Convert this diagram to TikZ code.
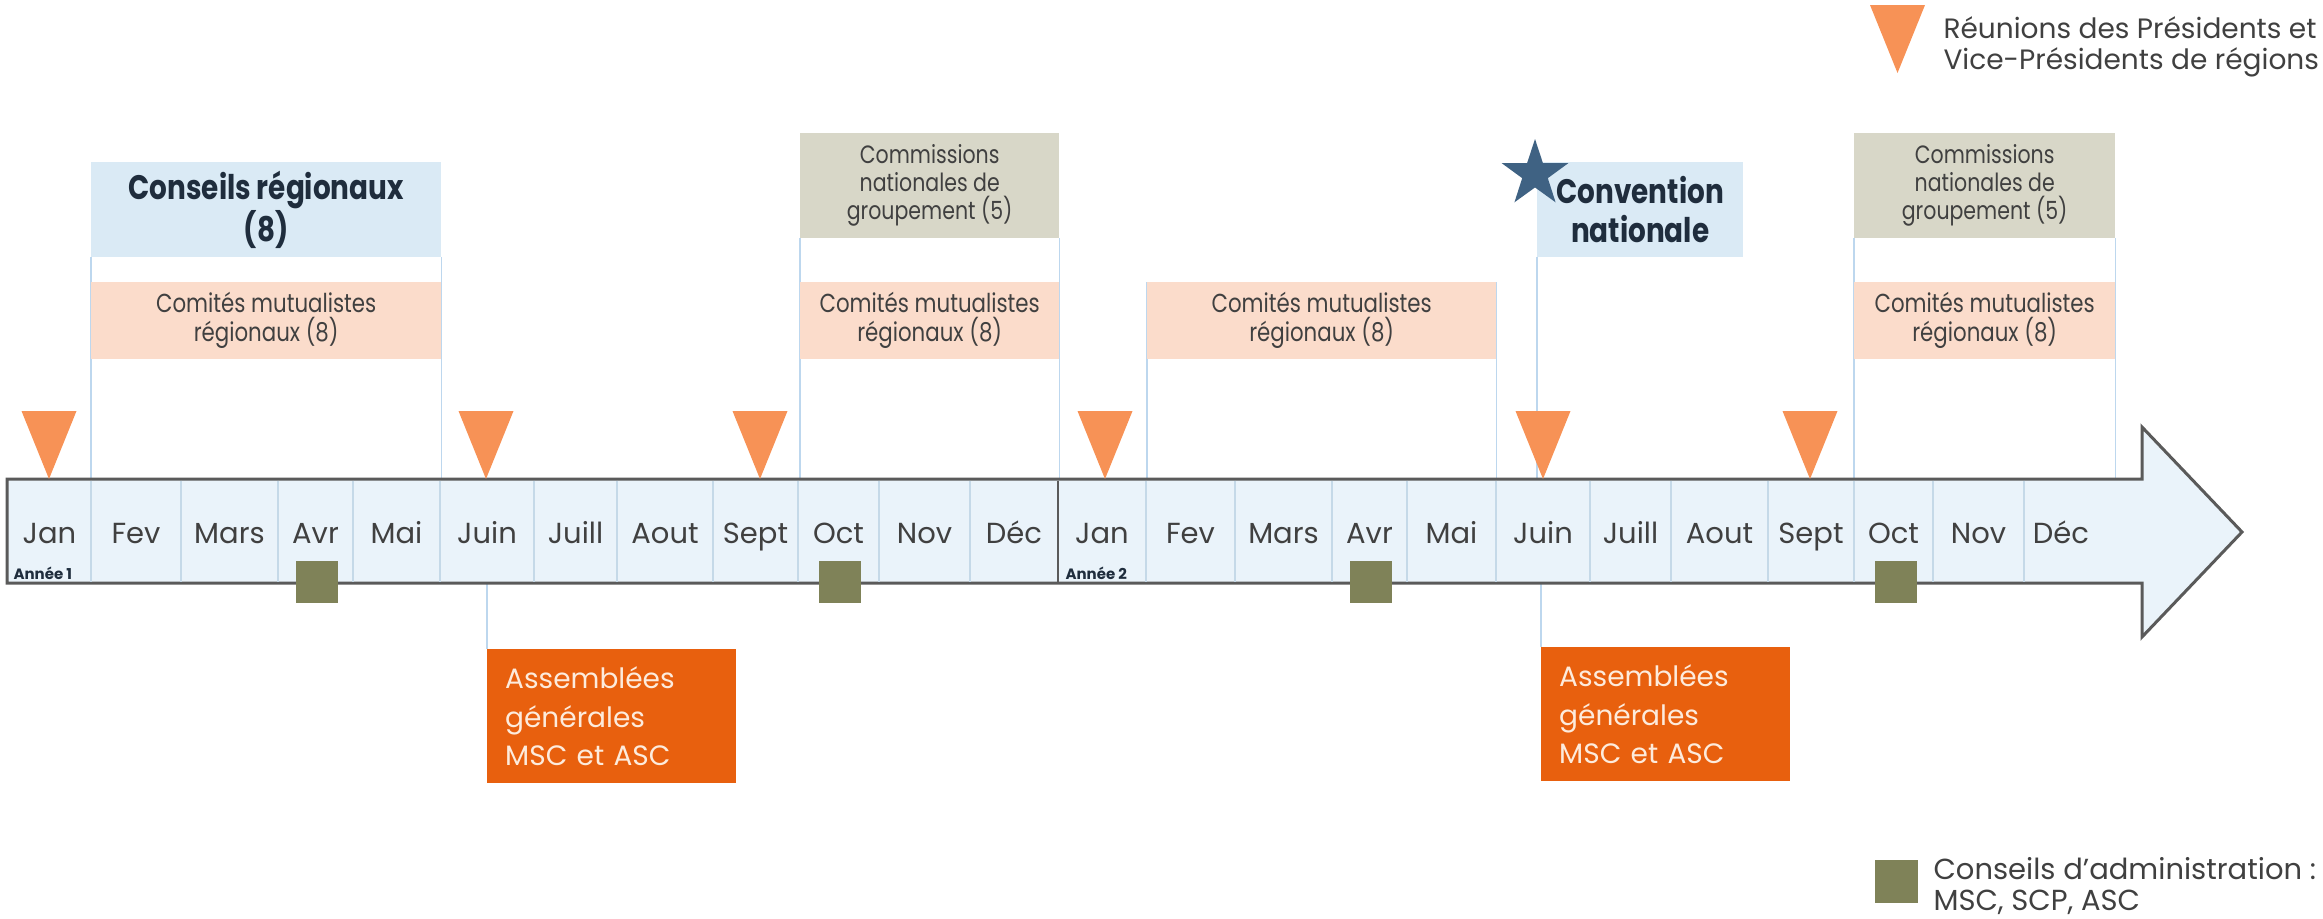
\documentclass[tikz,border=0pt]{standalone}
\usepackage{fontspec}
\setmainfont{Poppins}
\newfontfamily\narrowfont[FakeStretch=0.82]{Poppins}
\usetikzlibrary{shapes.geometric}

\definecolor{arrowfill}{RGB}{234,243,250}
\definecolor{arrowline}{RGB}{90,90,90}
\definecolor{cellline}{RGB}{197,217,232}
\definecolor{linkline}{RGB}{189,215,238}
\definecolor{conseilblue}{RGB}{218,234,245}
\definecolor{comitepink}{RGB}{251,220,203}
\definecolor{commisgray}{RGB}{216,215,200}
\definecolor{reunionorange}{RGB}{247,146,86}
\definecolor{agorange}{RGB}{232,96,14}
\definecolor{agtext}{RGB}{253,235,220}
\definecolor{caolive}{RGB}{127,130,88}
\definecolor{starblue}{RGB}{63,98,131}
\definecolor{textgray}{RGB}{64,64,64}
\definecolor{titlenavy}{RGB}{31,45,61}

\pgfdeclarelayer{back}
\pgfsetlayers{back,main}

\tikzset{
  box/.style = {inner sep=0pt, align=center, anchor=north west},
  conseil/.style = {box, fill=conseilblue, text=titlenavy, minimum height=95pt,
    font=\narrowfont\bfseries\fontsize{34}{39}\selectfont},
  comite/.style = {box, fill=comitepink, text=textgray,
    minimum height=77pt, font=\narrowfont\fontsize{26}{29}\selectfont},
  commis/.style = {box, fill=commisgray, text=textgray,
    minimum height=105pt, font=\narrowfont\fontsize{25}{28}\selectfont},
  assemblee/.style = {anchor=north west, fill=agorange, text=agtext,
    minimum width=249pt, minimum height=134pt, inner xsep=18pt,
    text width=213pt, align=left, font=\fontsize{28}{38.5}\selectfont},
  month/.style = {anchor=base, text=textgray, font=\fontsize{29}{30}\selectfont},
  annee/.style = {anchor=base west, text=titlenavy, font=\bfseries\fontsize{15}{16}\selectfont},
  admin/.style = {fill=caolive, minimum size=42pt, inner sep=0pt},
  link/.style = {linkline, line width=1.2pt},
  legend/.style = {anchor=west, align=left, text=textgray},
}

\begin{document}
\begin{tikzpicture}[x=1pt, y=-1pt]
    \useasboundingbox (0,0) rectangle (2323,918);
    \coordinate (top) at (0,479);
    \coordinate (bot) at (0,583);

    % boxes above the timeline
    \node[conseil, minimum width=350pt] (conseils) at (91,162) {Conseils régionaux\\(8)};
    \node[comite, minimum width=350pt] (comite1) at (91,282) {Comités mutualistes\\régionaux (8)};
    \node[commis, minimum width=259pt] (commis1) at (800,133) {Commissions\\nationales de\\groupement (5)};
    \node[comite, minimum width=259pt] (comite2) at (800,282) {Comités mutualistes\\régionaux (8)};
    \node[comite, minimum width=349pt] (comite3) at (1147,282) {Comités mutualistes\\régionaux (8)};
    \node[conseil, minimum width=206pt] (convention) at (1537,162) {Convention\\nationale};
    \node[commis, minimum width=261pt] (commis2) at (1854,133) {Commissions\\nationales de\\groupement (5)};
    \node[comite, minimum width=261pt] (comite4) at (1854,282) {Comités mutualistes\\régionaux (8)};

    % boxes below the timeline
    \node[assemblee] (ag1) at (487,649) {Assemblées\\générales\\MSC et ASC};
    \node[assemblee] (ag2) at (1541,647) {Assemblées\\générales\\MSC et ASC};

    % links, behind the boxes
    \begin{pgfonlayer}{back}
    \foreach \b in {conseils.south west, conseils.south east, commis1.south west, commis1.south east,
                    comite3.north west, comite3.north east, convention.south west,
                    commis2.south west, commis2.south east}
        \draw[link] (\b) -- (\b |- top);
    \draw[link] (ag1.north west |- bot) -- (ag1.north west);
    \draw[link] (ag2.north west |- bot) -- (ag2.north west);
    \end{pgfonlayer}

    % timeline arrow
    \draw[arrowline, fill=arrowfill, line width=3pt, line join=miter]
        (7,479) -- (2142,479) -- (2142,427) -- (2242,532) -- (2142,637) -- (2142,583) -- (7,583) -- cycle;
    \foreach \x in {91,181,278,353,440,534,617,713,798,879,970,1146,1235,1332,1407,1496,1590,1671,1768,1854,1933,2024}
        \draw[cellline, line width=1.5pt] (\x,480.5) -- (\x,581.5);
    \draw[arrowline, line width=2pt] (1058,480.5) -- (1058,581.5);

    % months
    \foreach \l/\r/\m [count=\i] in {8/91/Jan, 91/181/Fev, 181/278/Mars, 278/353/Avr, 353/440/Mai,
        440/534/Juin, 534/617/Juill, 617/713/Aout, 713/798/Sept, 798/879/Oct, 879/970/Nov, 970/1058/Déc,
        1058/1146/Jan, 1146/1235/Fev, 1235/1332/Mars, 1332/1407/Avr, 1407/1496/Mai, 1496/1590/Juin,
        1590/1671/Juill, 1671/1768/Aout, 1768/1854/Sept, 1854/1933/Oct, 1933/2024/Nov, 2024/2098/Déc}
        \node[month] (m\i) at ({(\l+\r)/2},543) {\m};
    \node[annee] (an1) at (10,579) {Année 1};
    \node[annee] (an2) at (1062,579) {Année 2};

    % reunions (triangles)
    \foreach \x in {49,486,760,1105,1543,1810}
        \fill[reunionorange] (\x-27.5,411) -- (\x+27.5,411) -- (\x,479) -- cycle;

    % conseils d'administration
    \foreach \x [count=\i] in {316.5,840,1371,1896}
        \node[admin] (ca\i) at (\x,582) {};

    % convention star
    \node[star, star points=5, star point ratio=2.6, fill=starblue, minimum size=70pt, inner sep=0pt] (star) at (1535,174) {};

    % legend
    \fill[reunionorange] (1870,5) -- (1925,5) -- (1897.5,73) -- cycle;
    \node[legend, font=\fontsize{28}{31}\selectfont] (leg1) at (1940,47) {Réunions des Présidents et\\Vice-Présidents de régions};
    \node[admin, minimum size=43pt] (legsq) at (1896,881) {};
    \node[legend, font=\fontsize{29}{31}\selectfont] (leg2) at (1930,886) {Conseils d'administration :\\MSC, SCP, ASC};
\end{tikzpicture}
\end{document}
